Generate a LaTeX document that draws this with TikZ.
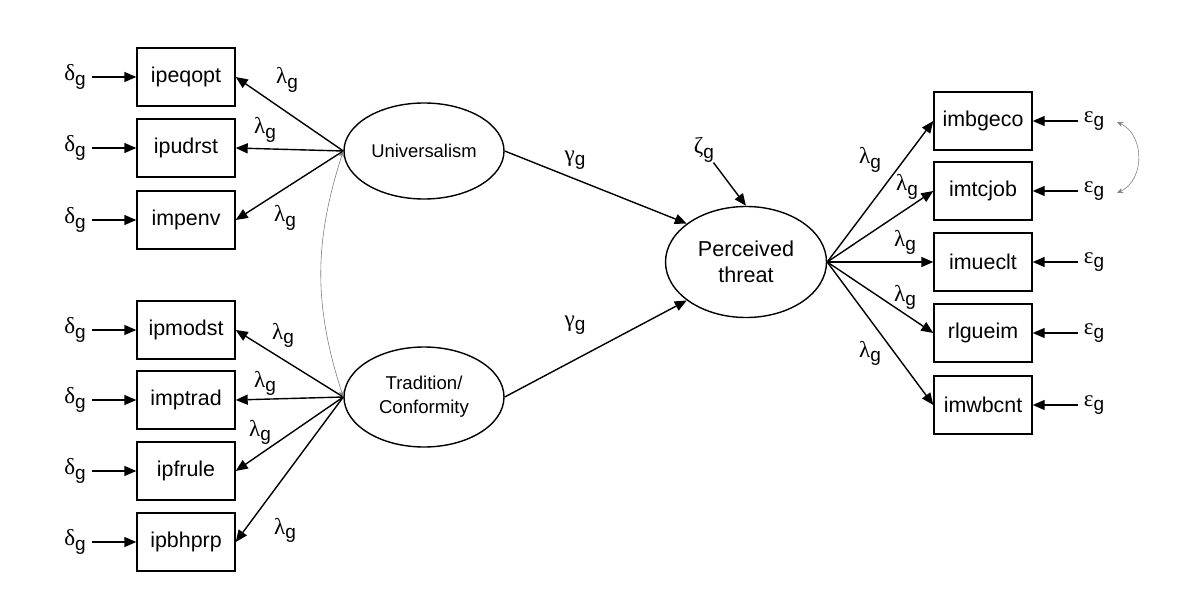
\documentclass[tikz,border=0pt]{standalone}
\usepackage{fontspec}
\setmainfont{Liberation Sans}
\newfontfamily\grk{Liberation Serif}
\usetikzlibrary{shapes.geometric,arrows.meta}
\newcommand{\gsub}[1]{{\grk #1}\raisebox{-0.35ex}{\fontsize{9.5}{10}\selectfont g}}
\tikzset{
obs/.style={
	draw,
	line width=0.7pt,
	minimum width=49pt,
	minimum height=29pt,
	inner sep=0pt,
	font=\fontsize{10.7}{12}\selectfont
},
lat/.style={
	draw,
	ellipse,
	line width=0.7pt,
	inner sep=0pt,
	minimum width=80pt,
	align=center
},
err/.style={inner sep=3pt, font=\fontsize{11.5}{12}\selectfont},
lab/.style={inner sep=0pt, font=\fontsize{11.5}{12}\selectfont},
arr/.style={line width=0.7pt, -{Triangle[length=6pt,width=5pt]}},
cov/.style={gray, line width=0.3pt, {Stealth[length=3pt,width=2.5pt]}-{Stealth[length=3pt,width=2.5pt]}}
}
\begin{document}
\begin{tikzpicture}[x=0.5pt,y=-0.5pt]
		\useasboundingbox (0,0) rectangle (1186,604);
		\node[lat, minimum height=48pt, font=\fontsize{9.2}{11}\selectfont] (uni) at (424,151) {Universalism};
		\node[lat, minimum height=50pt, font=\fontsize{9.3}{12}\selectfont] (trad) at (424,397) {Tradition/\\Conformity};
		\node[lat, minimum width=80.5pt, minimum height=55.5pt, font=\fontsize{10.8}{13}\selectfont] (threat) at (746,262) {Perceived\\threat};
		\foreach \nm/\yy in {ipeqopt/77,ipudrst/148,impenv/220,ipmodst/330,imptrad/400,ipfrule/471,ipbhprp/542}{
			\node[obs] (\nm) at (186,\yy) {\nm};
			\node[err] (d\nm) at (75,\yy) {\gsub{δ}};
			\draw[arr] (d\nm) -- (\nm);
		}
		\foreach \nm in {ipeqopt,ipudrst,impenv} \draw[arr] (uni.west) -- (\nm.east);
		\foreach \nm in {ipmodst,imptrad,ipfrule,ipbhprp} \draw[arr] (trad.west) -- (\nm.east);
		\node[lab] (lu1) at (287,80) {\gsub{λ}};
		\node[lab] (lu2) at (265,130) {\gsub{λ}};
		\node[lab] (lu3) at (285,218) {\gsub{λ}};
		\node[lab] (lt1) at (283,335) {\gsub{λ}};
		\node[lab] (lt2) at (265,383) {\gsub{λ}};
		\node[lab] (lt3) at (260,432) {\gsub{λ}};
		\node[lab] (lt4) at (285,530) {\gsub{λ}};
		\foreach \nm/\yy in {imbgeco/121,imtcjob/191,imueclt/262,rlgueim/333,imwbcnt/405}{
			\node[obs] (\nm) at (983,\yy) {\nm};
			\node[err] (e\nm) at (1094,\yy) {\gsub{ε}};
			\draw[arr] (e\nm) -- (\nm);
			\draw[arr] (threat.east) -- (\nm.west);
		}
		\node[lab] (lp1) at (870,160) {\gsub{λ}};
		\node[lab] (lp2) at (907,187) {\gsub{λ}};
		\node[lab] (lp3) at (905,242) {\gsub{λ}};
		\node[lab] (lp4) at (905,297) {\gsub{λ}};
		\node[lab] (lp5) at (870,353) {\gsub{λ}};
		\draw[arr] (uni.east) -- (threat.147);
		\draw[arr] (trad.east) -- (threat.213);
		\node[lab] (gu) at (575,160) {\gsub{γ}};
		\node[lab] (gt) at (575,325) {\gsub{γ}};
		\node[lab] (zeta) at (704,150) {\gsub{ζ}};
		\draw[arr] (zeta) -- (threat.north);
		\draw[cov] (uni.west) to[bend right=18] (trad.west);
		\coordinate (c1) at (1117,122);
		\coordinate (c2) at (1117,193);
		\draw[cov] (c1) .. controls (1145,135) and (1145,180) .. (c2);
		\end{tikzpicture}
\end{document}
